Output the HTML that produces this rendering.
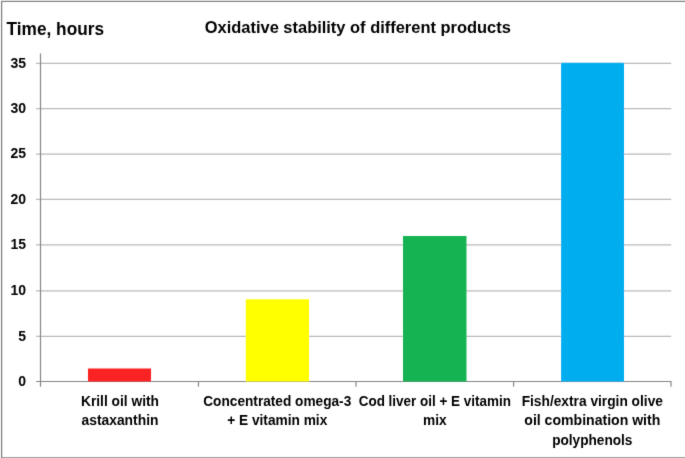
<!DOCTYPE html>
<html lang="en">
<head>
<meta charset="utf-8">
<title>Oxidative stability of different products</title>
<style>
html,body{margin:0;padding:0;background:#fff;overflow:hidden}
body{width:685px;height:458px;position:relative}
</style>
</head>
<body>
<svg width="685" height="458" viewBox="0 0 685 458" style="display:block;position:absolute;left:0;top:0" font-family="'Liberation Sans', Arial, sans-serif" font-weight="bold" fill="#000">
<defs><filter id="soft" x="-5" y="-5" width="695" height="468" filterUnits="userSpaceOnUse"><feConvolveMatrix order="3" kernelMatrix="0.0100 0.0800 0.0100 0.0800 0.6400 0.0800 0.0100 0.0800 0.0100" divisor="1" bias="0" edgeMode="duplicate" preserveAlpha="false"/></filter></defs>
<rect x="0" y="0" width="685" height="458" fill="#fff"/>
<g filter="url(#soft)">
<line x1="1" y1="1.35" x2="688" y2="1.35" stroke="#828282" stroke-width="1.3"/>
<line x1="1.6" y1="1" x2="1.6" y2="461" stroke="#828282" stroke-width="1.3"/>
<line x1="1" y1="457.9" x2="688" y2="457.9" stroke="#828282" stroke-width="1.3"/>
<line x1="36.0" y1="336.40" x2="671.2" y2="336.40" stroke="#bababa" stroke-width="1.2"/>
<line x1="36.0" y1="290.95" x2="671.2" y2="290.95" stroke="#bababa" stroke-width="1.2"/>
<line x1="36.0" y1="244.95" x2="671.2" y2="244.95" stroke="#bababa" stroke-width="1.2"/>
<line x1="36.0" y1="199.45" x2="671.2" y2="199.45" stroke="#bababa" stroke-width="1.2"/>
<line x1="36.0" y1="154.10" x2="671.2" y2="154.10" stroke="#bababa" stroke-width="1.2"/>
<line x1="36.0" y1="108.60" x2="671.2" y2="108.60" stroke="#bababa" stroke-width="1.2"/>
<line x1="36.0" y1="63.35" x2="671.2" y2="63.35" stroke="#bababa" stroke-width="1.2"/>
<line x1="40.5" y1="53.5" x2="40.5" y2="386.7" stroke="#868686" stroke-width="1.2"/>
<line x1="36.0" y1="381.5" x2="671.4000000000001" y2="381.5" stroke="#868686" stroke-width="1.2"/>
<line x1="198.45" y1="381.5" x2="198.45" y2="386.7" stroke="#868686" stroke-width="1.2"/>
<line x1="356.05" y1="381.5" x2="356.05" y2="386.7" stroke="#868686" stroke-width="1.2"/>
<line x1="513.60" y1="381.5" x2="513.60" y2="386.7" stroke="#868686" stroke-width="1.2"/>
<line x1="671.00" y1="381.5" x2="671.00" y2="386.7" stroke="#868686" stroke-width="1.2"/>
<rect x="88.00" y="368.50" width="63.00" height="13.05" fill="#fa2424"/>
<rect x="245.80" y="299.30" width="63.20" height="82.25" fill="#ffff00"/>
<rect x="403.00" y="236.00" width="63.50" height="145.55" fill="#12b353"/>
<rect x="561.10" y="62.80" width="62.90" height="318.75" fill="#00aeef"/>
<text x="26" y="385.70" font-size="14" text-anchor="end">0</text>
<text x="26" y="340.60" font-size="14" text-anchor="end">5</text>
<text x="26" y="295.15" font-size="14" text-anchor="end">10</text>
<text x="26" y="249.15" font-size="14" text-anchor="end">15</text>
<text x="26" y="203.65" font-size="14" text-anchor="end">20</text>
<text x="26" y="158.30" font-size="14" text-anchor="end">25</text>
<text x="26" y="112.80" font-size="14" text-anchor="end">30</text>
<text x="26" y="67.55" font-size="14" text-anchor="end">35</text>
<text x="6.6" y="34.9" font-size="17.5" textLength="97.4" lengthAdjust="spacingAndGlyphs">Time, hours</text>
<text x="204.8" y="32.8" font-size="16" textLength="306" lengthAdjust="spacingAndGlyphs">Oxidative stability of different products</text>
<text x="80.97" y="406.10" font-size="14" textLength="78.0" lengthAdjust="spacingAndGlyphs">Krill oil with</text>
<text x="81.47" y="425.30" font-size="14" textLength="77.0" lengthAdjust="spacingAndGlyphs">astaxanthin</text>
<text x="203.25" y="406.10" font-size="14" textLength="148.0" lengthAdjust="spacingAndGlyphs">Concentrated omega-3</text>
<text x="227.20" y="425.30" font-size="14" textLength="100.1" lengthAdjust="spacingAndGlyphs">+ E vitamin mix</text>
<text x="358.73" y="406.10" font-size="14" textLength="152.2" lengthAdjust="spacingAndGlyphs">Cod liver oil + E vitamin</text>
<text x="423.03" y="425.30" font-size="14" textLength="23.6" lengthAdjust="spacingAndGlyphs">mix</text>
<text x="521.65" y="406.10" font-size="14" textLength="141.3" lengthAdjust="spacingAndGlyphs">Fish/extra virgin olive</text>
<text x="524.30" y="425.30" font-size="14" textLength="136.0" lengthAdjust="spacingAndGlyphs">oil combination with</text>
<text x="552.20" y="444.70" font-size="14" textLength="80.2" lengthAdjust="spacingAndGlyphs">polyphenols</text>
</g>
</svg>
</body>
</html>
